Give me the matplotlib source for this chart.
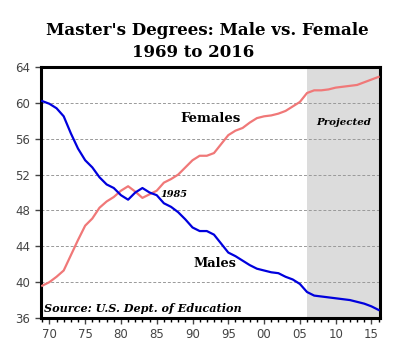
import matplotlib
matplotlib.use("Agg")
import matplotlib.pyplot as plt
import numpy as np

years = list(range(1969, 2017))
male = [60.2, 59.9, 59.4, 58.5, 56.6, 54.9, 53.6, 52.8, 51.7, 50.9,
        50.5, 49.7, 49.2, 50.0, 50.5, 50.0, 49.7, 48.8, 48.4, 47.8,
        47.0, 46.1, 45.7, 45.7, 45.3, 44.3, 43.3, 42.9, 42.4, 41.9,
        41.5, 41.3, 41.1, 41.0, 40.6, 40.3, 39.8, 38.9, 38.5, 38.4,
        38.3, 38.2, 38.1, 38.0, 37.8, 37.6, 37.3, 36.9]
female = [39.6, 40.0, 40.6, 41.3, 43.0, 44.7, 46.3, 47.1, 48.3, 49.0,
          49.5, 50.2, 50.7, 50.1, 49.4, 49.8, 50.2, 51.1, 51.5, 52.0,
          52.8, 53.6, 54.1, 54.1, 54.4, 55.4, 56.4, 56.9, 57.2, 57.8,
          58.3, 58.5, 58.6, 58.8, 59.1, 59.6, 60.1, 61.1, 61.4, 61.4,
          61.5, 61.7, 61.8, 61.9, 62.0, 62.3, 62.6, 62.9]
projected_start = 2006
xtick_years = [1970, 1975, 1980, 1985, 1990, 1995, 2000, 2005, 2010, 2015]
xtick_labels = ["70", "75", "80", "85", "90", "95", "00", "05", "10", "15"]
yticks = [36, 40, 44, 48, 52, 56, 60, 64]

serif = "DejaVu Serif"

fig = plt.figure(figsize=(4.0, 3.52), dpi=100)
ax = fig.add_axes([0.102, 0.0966, 0.848, 0.713])

ax.axvspan(projected_start, 2016.3, color="#dcdcdc", lw=0, zorder=0)
for y in yticks[1:-1]:
    ax.axhline(y, color="#999999", lw=0.7, ls=(0, (3, 2)), zorder=1)

ax.plot(years, female, color="#f07878", lw=1.6, zorder=3)
ax.plot(years, male, color="#0000dd", lw=1.6, zorder=3)

ax.set_xlim(1968.8, 2016.2)
ax.set_ylim(36, 64)
ax.set_yticks(yticks)
ax.set_xticks(xtick_years)
ax.set_xticklabels(xtick_labels)
ax.set_xticks(years, minor=True)
ax.tick_params(axis="both", labelsize=8.5, labelcolor="#444444", color="#444444",
               direction="out")
ax.tick_params(axis="x", which="major", length=4, width=1)
ax.tick_params(axis="x", which="minor", length=3, width=1)
ax.tick_params(axis="y", length=4, width=1)
for s in ax.spines.values():
    s.set_linewidth(2.2)
    s.set_color("black")

ax.text(1988.3, 58.3, "Females", fontfamily=serif, fontweight="bold", fontsize=9.5,
        va="center", ha="left")
ax.text(1990.1, 42.1, "Males", fontfamily=serif, fontweight="bold", fontsize=9.3,
        va="center", ha="left")
ax.text(1985.5, 49.8, "1985", fontfamily=serif, fontweight="bold", style="italic",
        fontsize=7, va="center", ha="left")
ax.text(2011.1, 57.8, "Projected", fontfamily=serif, fontweight="bold", style="italic",
        fontsize=7.4, va="center", ha="center")
ax.text(1969.3, 37.1, "Source: U.S. Dept. of Education", fontfamily=serif,
        fontweight="bold", style="italic", fontsize=8.1, va="center", ha="left")

fig.text(0.518, 0.912, "Master's Degrees: Male vs. Female", fontfamily=serif,
         fontweight="bold", fontsize=12, ha="center", va="center")
fig.text(0.483, 0.851, "1969 to 2016", fontfamily=serif,
         fontweight="bold", fontsize=12, ha="center", va="center")

fig.savefig("out.png", dpi=100)
